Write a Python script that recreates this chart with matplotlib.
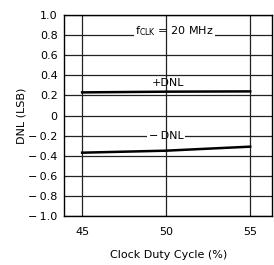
import matplotlib
matplotlib.use("Agg")
import matplotlib.pyplot as plt
import numpy as np

# values
duty_cycle = [45, 50, 55]
pos_dnl = [0.23, 0.237, 0.24]
neg_dnl = [-0.37, -0.35, -0.31]
yticks = [1.0, 0.8, 0.6, 0.4, 0.2, 0, -0.2, -0.4, -0.6, -0.8, -1.0]
xticks = [45, 50, 55]

plt.rcParams['font.family'] = 'DejaVu Sans'

fig = plt.figure(figsize=(2.74, 2.65), dpi=100)
ax = fig.add_axes([0.2354, 0.1849, 0.7573, 0.7585])

ax.set_xlim(43.95, 56.3)
ax.set_ylim(-1.0, 1.0)

# horizontal grid under the text boxes, vertical grid above them
for y in yticks:
    ax.axhline(y, color='#222222', lw=0.9, zorder=1)
for x in xticks:
    ax.axvline(x, color='#222222', lw=0.9, zorder=4)

ax.plot(duty_cycle, pos_dnl, color='black', lw=1.8, zorder=5)
ax.plot(duty_cycle, neg_dnl, color='black', lw=1.8, zorder=5)

box = dict(facecolor='white', edgecolor='none', pad=1.0)
ax.text(50.5, 0.835, r'f$_\mathregular{CLK}$ = 20 MHz', ha='center', va='center',
        fontsize=8, bbox=box, zorder=3)
ax.text(50.1, 0.32, '+DNL', ha='center', va='center', fontsize=8, bbox=box, zorder=3)
ax.text(50.0, -0.2, '\u2212\u2009DNL', ha='center', va='center', fontsize=8, bbox=box, zorder=3)


def fmt(v):
    if v == 0:
        return '0'
    s = '%.1f' % abs(v)
    return ('\u2212\u2009' + s) if v < 0 else s


ax.set_yticks(yticks)
ax.set_yticklabels([fmt(v) for v in yticks])
ax.set_xticks(xticks)
ax.tick_params(length=0, labelsize=8, pad=5)
ax.tick_params(axis='x', pad=8)

for s in ax.spines.values():
    s.set_color('black')
    s.set_linewidth(1.0)
    s.set_zorder(6)

ax.set_xlabel('Clock Duty Cycle (%)', fontsize=8, labelpad=9)
ax.set_ylabel('DNL (LSB)', fontsize=8, labelpad=1)

fig.savefig('out.png', dpi=100)
